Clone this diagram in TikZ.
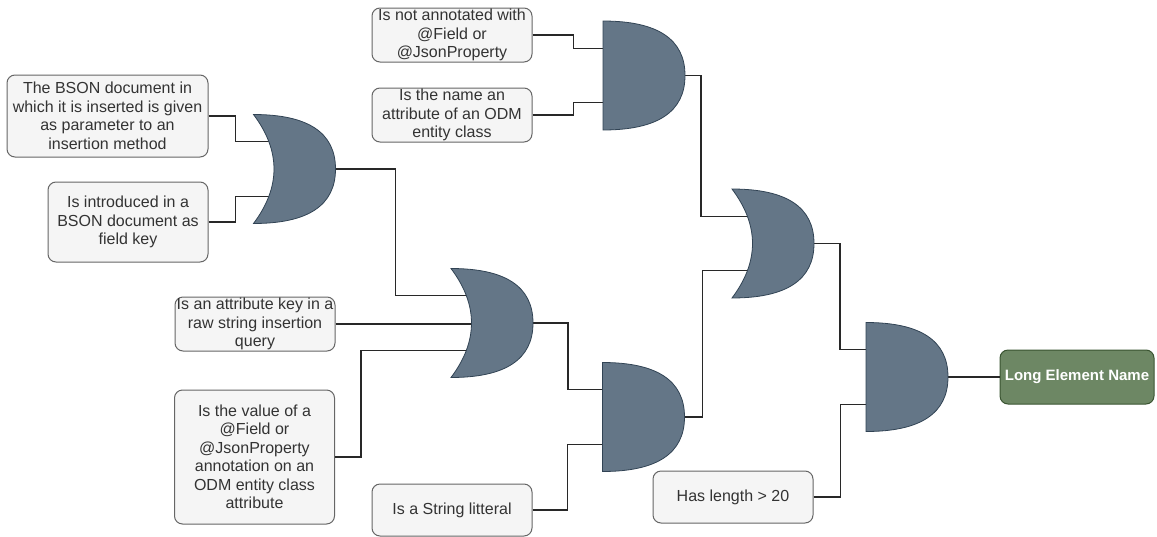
\documentclass[tikz,border=0pt]{standalone}
\usepackage{fontspec}
\setmainfont{Liberation Sans}
\usetikzlibrary{calc}
\definecolor{box_fill}{RGB}{245,245,245}
\definecolor{box_edge}{RGB}{102,102,102}
\definecolor{box_text}{RGB}{51,51,51}
\definecolor{gate_fill}{RGB}{100,118,135}
\definecolor{gate_edge}{RGB}{49,67,84}
\definecolor{out_fill}{RGB}{109,135,100}
\definecolor{out_edge}{RGB}{58,84,49}
\definecolor{wire_gray}{RGB}{40,40,40}

\begin{document}
\begin{tikzpicture}[x=1pt,y=-1pt,line width=1pt]
    \tikzstyle{cond}=[draw=box_edge, fill=box_fill, text=box_text, rounded corners=8pt, inner sep=0pt, align=center, minimum width=160pt, minimum height=54pt, font=\fontsize{16}{18.5}\selectfont]
    \tikzstyle{result}=[style=cond, fill=out_fill, draw=out_edge, text=white, minimum width=154pt, font=\fontsize{15}{18}\selectfont\bfseries]
    \tikzstyle{gatebox}=[inner sep=0pt, minimum width=81pt, minimum height=108pt]
    \tikzstyle{gate}=[fill=gate_fill, draw=gate_edge, line width=0.8pt]
    \tikzstyle{wire}=[draw=wire_gray, line width=1.2pt]

    \useasboundingbox (0,0) rectangle (1157,536);

    % conditions
    \node[cond, minimum width=201pt, minimum height=82pt] (bson) at (107.5,116) {The BSON document in\\which it is inserted is given\\as parameter to an\\insertion method};
    \node[cond, minimum height=80pt] (intro)  at (128,222)   {Is introduced in a\\BSON document as\\field key};
    \node[cond]                      (notann) at (452,35)    {Is not annotated with\\@Field or\\@JsonProperty};
    \node[cond]                      (attr)   at (452,115)   {Is the name an\\attribute of an ODM\\entity class};
    \node[cond]                      (rawkey) at (255,324)   {Is an attribute key in a\\raw string insertion\\query};
    \node[cond, minimum height=134pt] (value) at (254.5,457) {Is the value of a\\@Field or\\@JsonProperty\\annotation on an\\ODM entity class\\attribute};
    \node[cond, minimum height=52pt] (strlit) at (452,510)   {Is a String litteral};
    \node[cond, minimum height=52pt] (len)    at (733,497)   {Has length > 20};
    \node[result]                    (long)   at (1077,377)  {Long Element Name};

    % gates
    \node[gatebox] (or1)  at (294.5,169) {};
    \node[gatebox] (or2)  at (492,323)   {};
    \node[gatebox] (or3)  at (773,243.5) {};
    \node[gatebox] (and1) at (644,75.5)  {};
    \node[gatebox] (and2) at (643.5,417) {};
    \node[gatebox] (and3) at (907,377)   {};

    % inputs end under the gate body
    \foreach \g in {or1,or2,or3,and1,and2,and3} {
      \coordinate (\g-a) at ($(\g.north west)!.25!(\g.south west) + (25,0)$);
      \coordinate (\g-b) at ($(\g.north west)!.75!(\g.south west) + (25,0)$);
      \coordinate (\g-m) at ($(\g.west) + (25,0)$);
    }

    \path[wire]
     (bson.east)   -- ++(27,0) |- (or1-a)
     (intro.east)  -- ++(27,0) |- (or1-b)
     (or1.east)    -- ++(60,0) |- (or2-a)
     (rawkey.east) -- (rawkey.east -| or2-m)
     (value.east)  -- ++(26,0) |- (or2-b)
     (or2.east)    -- ++(35,0) |- (and2-a)
     (strlit.east) -- ++(35,0) |- (and2-b)
     (notann.east) -- ++(41,0) |- (and1-a)
     (attr.east)   -- ++(41,0) |- (and1-b)
     (and1.east)   -- ++(16,0) |- (or3-a)
     (and2.east)   -- ++(18,0) |- (or3-b)
     (or3.east)    -- ++(26,0) |- (and3-a)
     (len.east)    -- ++(27,0) |- (and3-b)
     (and3.east)   -- (long.west)
     ;

    \foreach \g in {and1,and2,and3}
      \filldraw[gate] (\g.north west)
        .. controls ($(\g.north west)!2/3!(\g.north east)$) and ($(\g.east)!2/3!(\g.north east)$) .. (\g.east)
        .. controls ($(\g.east)!2/3!(\g.south east)$) and ($(\g.south west)!2/3!(\g.south east)$) .. (\g.south west)
        -- cycle;
    \foreach \g in {or1,or2,or3}
      \filldraw[gate] (\g.north west)
        .. controls ($(\g.north west)!2/3!(\g.north east)$) and ($(\g.east)!2/3!(\g.north east)$) .. (\g.east)
        .. controls ($(\g.east)!2/3!(\g.south east)$) and ($(\g.south west)!2/3!(\g.south east)$) .. (\g.south west)
        .. controls ($(\g.south west)!2/3!(\g.center)$) and ($(\g.north west)!2/3!(\g.center)$) .. (\g.north west)
        -- cycle;
\end{tikzpicture}
\end{document}
